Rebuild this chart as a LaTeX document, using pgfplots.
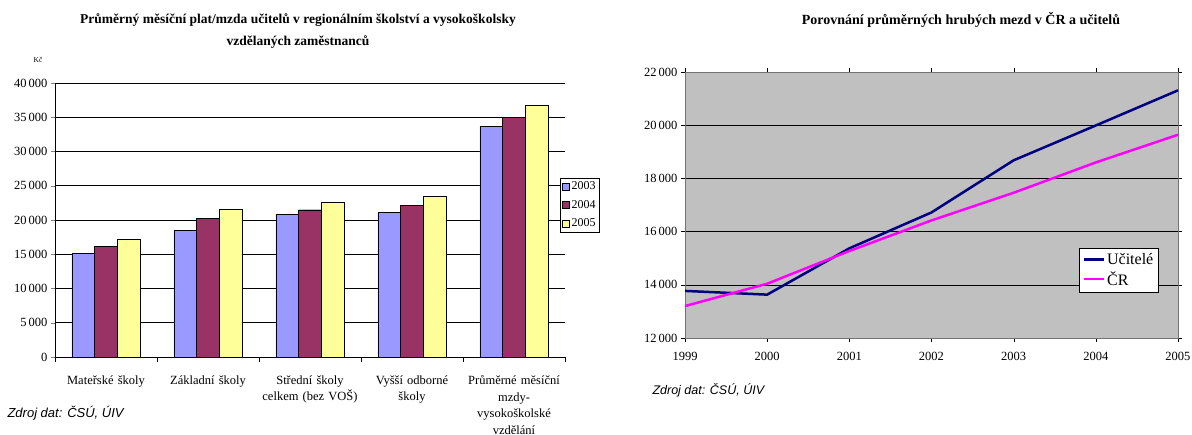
\documentclass[border=0pt]{standalone}
\usepackage{pgfplots}
\pgfplotsset{compat=1.18}
\usepackage{fontspec}
\setmainfont{Liberation Serif}
\newfontfamily\arialfont{Liberation Sans}

\definecolor{c2003}{HTML}{9999FF}
\definecolor{c2004}{HTML}{993366}
\definecolor{c2005}{HTML}{FFFF99}
\definecolor{ucitele}{HTML}{000080}
\definecolor{cr}{HTML}{FF00FF}
\definecolor{plotgray}{HTML}{C0C0C0}

\newcommand{\tickfont}{\fontsize{12.5}{16.5}\selectfont}

\begin{document}
\begin{tikzpicture}
\useasboundingbox (0pt,0pt) rectangle (1192pt,435pt);

% left chart: salaries by school type
\begin{axis}[
  at={(55pt,78pt)}, anchor=south west,
  scale only axis, width=510pt, height=274pt,
  ybar=0pt, bar width=22.7pt,
  xmin=-0.5, xmax=4.5, ymin=0, ymax=40000,
  ytick distance=5000, scaled y ticks=false,
  xtick={0,...,4},
  xticklabels={Mateřské školy, Základní školy, {Střední školy\\celkem (bez VOŠ)},
    {Vyšší odborné\\školy}, {Průměrné měsíční\\mzdy-\\vysokoškolské\\vzdělání}},
  minor xtick={-0.5,0.5,...,4.5},
  major x tick style={draw=none},
  minor x tick style={black},
  minor tick length=5pt, major tick length=4pt,
  tick align=outside,
  axis x line*=bottom, axis y line*=left,
  axis line style={black},
  ymajorgrids, grid style={black, line width=0.5pt},
  xticklabel style={align=center, text width=100pt, font=\tickfont, yshift=-11pt},
  yticklabel style={font=\tickfont},
  /pgf/number format/.cd, 1000 sep={\,}, assume math mode=true,
  /pgfplots/.cd,
  legend style={at={(0.99,0.555)}, anchor=west, draw=black, fill=white,
    font=\fontsize{12}{14}\selectfont, inner sep=2pt, row sep=5pt},
  legend cell align=left,
  legend image code/.code={\draw[#1, draw=black] (0pt,-3.5pt) rectangle (7pt,3.5pt);},
]
\addplot[fill=c2003, draw=black] coordinates {(0,15100) (1,18500) (2,20800) (3,21100) (4,33700)};
\addlegendentry{2003}
\addplot[fill=c2004, draw=black] coordinates {(0,16200) (1,20200) (2,21500) (3,22100) (4,35000)};
\addlegendentry{2004}
\addplot[fill=c2005, draw=black] coordinates {(0,17200) (1,21600) (2,22600) (3,23500) (4,36700)};
\addlegendentry{2005}
\end{axis}

% right chart: teachers vs. CR
\begin{axis}[
  at={(685pt,97pt)}, anchor=south west,
  scale only axis, width=493pt, height=266pt,
  xmin=1999, xmax=2005, ymin=12000, ymax=22000,
  xtick={1999,...,2005}, ytick distance=2000, scaled y ticks=false,
  axis background/.style={fill=plotgray},
  axis line style={black!55},
  tick align=outside, major tick length=4pt,
  tick style={black},
  ymajorgrids, grid style={black, line width=0.5pt},
  xticklabel style={font=\tickfont, yshift=-7pt, /pgf/number format/1000 sep={}},
  yticklabel style={font=\tickfont},
  /pgf/number format/.cd, 1000 sep={\,}, assume math mode=true,
  /pgfplots/.cd,
  legend style={at={(0.80,0.256)}, anchor=west, draw=black, fill=white,
    font=\fontsize{16}{18}\selectfont, inner sep=3pt, row sep=2pt},
  legend cell align=left,
  legend image code/.code={\draw[#1] (0pt,0pt) -- (20pt,0pt);},
]
\addplot[ucitele, line width=2.5pt] coordinates {(1999,13770) (2000,13630) (2001,15370) (2002,16720) (2003,18680) (2004,19990) (2005,21310)};
\addlegendentry{Učitelé}
\addplot[cr, line width=2.5pt] coordinates {(1999,13200) (2000,14040) (2001,15270) (2002,16420) (2003,17460) (2004,18600) (2005,19640)};
\addlegendentry{ČR}
\end{axis}

% titles and notes
\node[font=\bfseries\fontsize{13.5}{22}\selectfont, align=center] at (298pt,404pt)
  {Průměrný měsíční plat/mzda učitelů v regionálním školství a vysokoškolsky\\vzdělaných zaměstnanců};
\node[font=\bfseries\fontsize{14}{16}\selectfont] at (961pt,415pt)
  {Porovnání průměrných hrubých mezd v ČR a učitelů};
\node[font=\fontsize{7.5}{8}\selectfont] at (38pt,375pt) {Kč};
\node[anchor=west, font=\arialfont\itshape\fontsize{13}{15}\selectfont] at (4pt,22pt) {Zdroj dat: ČSÚ, ÚIV};
\node[anchor=west, font=\arialfont\itshape\fontsize{12.5}{15}\selectfont] at (649pt,45pt) {Zdroj dat: ČSÚ, ÚIV};
\end{tikzpicture}
\end{document}
